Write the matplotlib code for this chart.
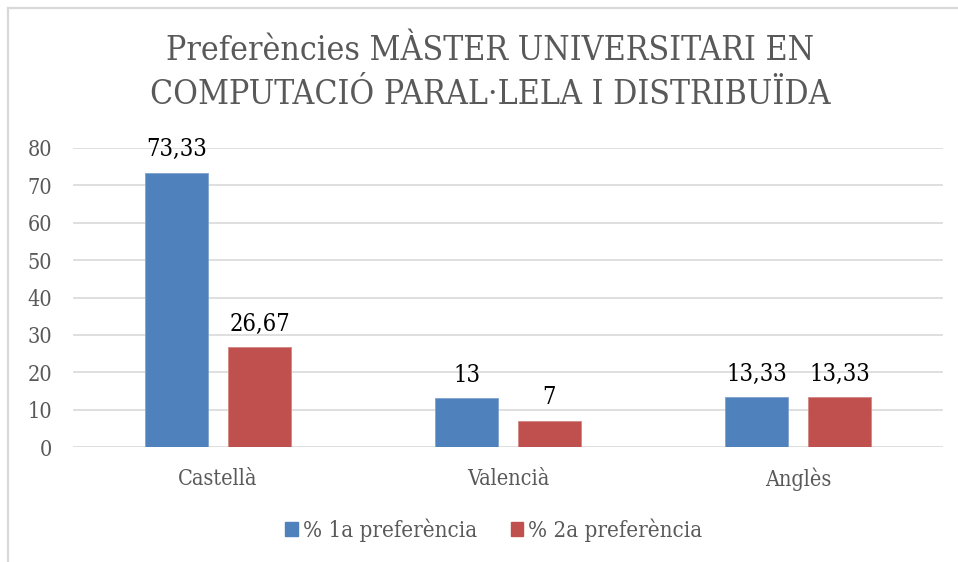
import matplotlib
matplotlib.use("Agg")
import matplotlib.pyplot as plt
import numpy as np
from matplotlib.lines import Line2D
from matplotlib.patches import Patch

categories = ["Castellà", "Valencià", "Anglès"]
pref1 = [73.33, 13, 13.33]
pref2 = [26.67, 7, 13.33]
labels1 = ["73,33", "13", "13,33"]
labels2 = ["26,67", "7", "13,33"]
series_names = ["% 1a preferència", "% 2a preferència"]
yticks = [0, 10, 20, 30, 40, 50, 60, 70, 80]

blue = "#4f81bd"
red = "#c0504d"
gray_text = "#595959"
grid_col = "#d9d9d9"

# condensed serif is the closest thing to Cambria we have here
plt.rcParams["font.family"] = ["DejaVu Serif", "DejaVu Sans"]
plt.rcParams["font.stretch"] = "condensed"

fig = plt.figure(figsize=(9.58, 5.62), dpi=100)
ax = fig.add_axes([73 / 958, 115 / 562, 870 / 958, 299 / 562])

x = np.arange(len(categories))
w = 0.22
off = 0.143
b1 = ax.bar(x - off, pref1, w, color=blue, edgecolor="#7fa3d0", linewidth=0.6, zorder=3)
b2 = ax.bar(x + off, pref2, w, color=red, edgecolor="#d48784", linewidth=0.6, zorder=3)

for bars, labs in ((b1, labels1), (b2, labels2)):
    for rect, lab in zip(bars, labs):
        ax.annotate(lab, (rect.get_x() + rect.get_width() / 2, rect.get_height()),
                    xytext=(0, 12), textcoords="offset points",
                    ha="center", va="baseline", fontsize=17, color="black")

ax.set_xlim(-0.5, 2.5)
ax.set_ylim(0, 80)
ax.set_yticks(yticks)
for t in yticks:
    ax.axhline(t, color=grid_col, lw=1.2, zorder=1)
ax.set_xticks(x)
ax.set_xticklabels(categories)
ax.tick_params(axis="both", length=0, colors=gray_text, labelsize=15.5)
ax.tick_params(axis="x", pad=15)
ax.tick_params(axis="y", pad=15)
for s in ax.spines.values():
    s.set_visible(False)

fig.text(490 / 958, 1 - 51 / 562, "Preferències MÀSTER UNIVERSITARI EN",
         ha="center", va="center", fontsize=24.2, color=gray_text)
fig.text(490 / 958, 1 - 95 / 562, "COMPUTACIÓ PARAL·LELA I DISTRIBUÏDA",
         ha="center", va="center", fontsize=24.2, color=gray_text)

handles = [Patch(color=blue), Patch(color=red)]
fig.legend(handles, series_names, loc="center", bbox_to_anchor=(494 / 958, 1 - 530 / 562),
           ncol=2, frameon=False, fontsize=16, labelcolor=gray_text,
           handlelength=0.55, handleheight=0.55, handletextpad=0.25, columnspacing=1.5)

# outer chart frame (only top and left edges visible)
fig.add_artist(Line2D([8 / 958, 8 / 958], [0, 1 - 8 / 562], transform=fig.transFigure,
                      color=grid_col, lw=1.6))
fig.add_artist(Line2D([8 / 958, 1], [1 - 8 / 562, 1 - 8 / 562], transform=fig.transFigure,
                      color=grid_col, lw=1.6))

fig.savefig("out.png", dpi=100)
